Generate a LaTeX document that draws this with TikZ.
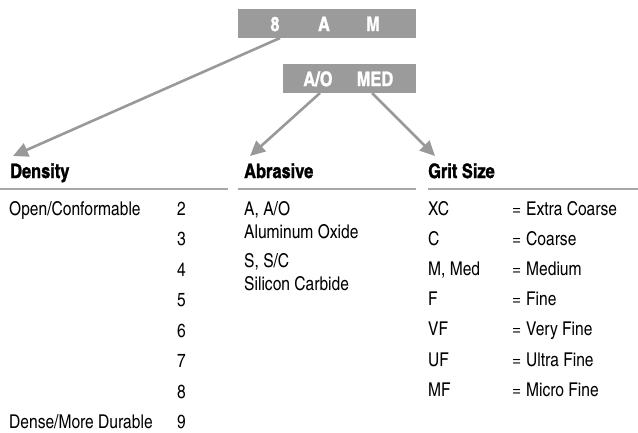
\documentclass[tikz,border=0pt]{standalone}
\usepackage{fontspec}
\setmainfont{texgyreheroscn}[Extension=.otf, UprightFont=*-regular, BoldFont=*-bold]
\newfontfamily\headfont{texgyreheroscn}[Extension=.otf, UprightFont=*-bold, FakeBold=1.2]
\usetikzlibrary{arrows.meta}
\definecolor{boxgray}{HTML}{9B9B9B}
\definecolor{arrgray}{HTML}{999999}
\definecolor{rulegray}{HTML}{A8A8A8}
\tikzset{
  codebox/.style={fill=boxgray, draw=none, inner sep=0pt},
  codetxt/.style={anchor=base, text=white, font=\fontsize{20}{20}\headfont, inner sep=0pt},
  head/.style={anchor=base west, font=\fontsize{20}{20}\headfont, inner sep=0pt},
  txt/.style={anchor=base west, font=\fontsize{19}{19}\selectfont, inner sep=0pt},
  conn/.style={draw=arrgray, line width=2.6pt, -{Triangle[length=15pt,width=14pt]}},
  hrule/.style={draw=rulegray, line width=1.1pt}
}
\begin{document}
\begin{tikzpicture}[x=1pt,y=-1pt]
\useasboundingbox (0,0) rectangle (638,432);
% code boxes
\path[codebox] (238,9) rectangle (416,38);
\path[codebox] (283,64) rectangle (416,93);
\node[codetxt] (c8) at (275,31) {8};
\node[codetxt] (cA) at (324,31) {A};
\node[codetxt] (cM) at (373,31) {M};
\node[codetxt] (cAO) at (318,86) {A/O};
\node[codetxt] (cMED) at (375,86) {MED};
\coordinate (s1) at (280,38);
\coordinate (s2) at (320,93);
\coordinate (s3) at (372,93);
\coordinate (t1) at (13,156);
\coordinate (t2) at (250,156);
\coordinate (t3) at (435,156);
\draw[conn] (s1) -- (t1);
\draw[conn] (s2) -- (t2);
\draw[conn] (s3) -- (t3);
% headers
\node[head] (hD) at (10,178) {Density};
\node[head] (hA) at (244,178) {Abrasive};
\node[head] (hG) at (428,178) {Grit Size};
\draw[hrule] (0,189) -- (228,189);
\draw[hrule] (238,189) -- (416,189);
\draw[hrule] (428,189) -- (638,189);
% density
\node[txt] (d1) at (9,215) {Open/Conformable};
\node[txt] (d9) at (9,428.5) {Dense/More Durable};
\foreach \n [count=\i from 0] in {2,3,4,5,6,7,8,9}{
  \node[txt] (n\n) at (177,215+30.5*\i) {\n};
}
% abrasive
\node[txt] (a1) at (244,215) {A, A/O};
\node[txt] (a2) at (244,238) {Aluminum Oxide};
\node[txt] (a3) at (244,267) {S, S/C};
\node[txt] (a4) at (244,290) {Silicon Carbide};
% grit
\foreach \c/\d [count=\i from 0] in {XC/Extra Coarse, C/Coarse, {M, Med}/Medium, F/Fine, VF/Very Fine, UF/Ultra Fine, MF/Micro Fine}{
  \node[txt] (g\i) at (428,215+30.2*\i) {\c};
  \node[txt] (e\i) at (512,215+30.2*\i) {=};
  \node[txt] (v\i) at (526,215+30.2*\i) {\d};
}
\end{tikzpicture}
\end{document}
